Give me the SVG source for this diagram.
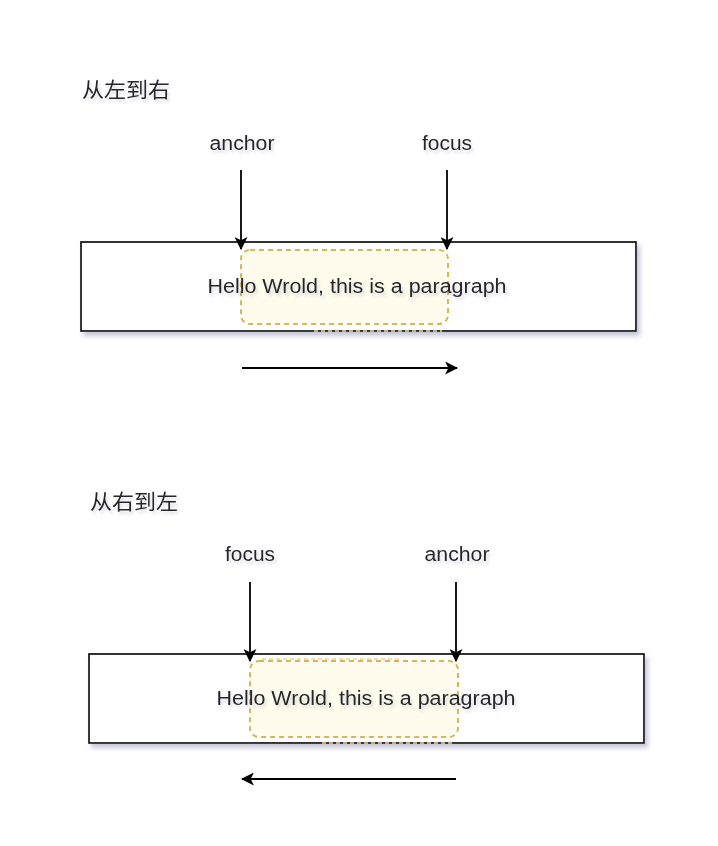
<svg xmlns="http://www.w3.org/2000/svg" width="718" height="846" viewBox="0 0 718 846">
<style>
.t{font-family:"Liberation Sans","Noto Sans CJK SC",Arial,sans-serif;fill:#262626;}
.lbl{font-size:20px;text-anchor:middle;filter:url(#tsh);}
.title{font-size:21px;filter:url(#tsh);}
.box{fill:#fff;stroke:#000;stroke-width:1.6;filter:url(#sh);}
.hl{fill:#fffbea;fill-opacity:0.85;stroke:#d6b656;stroke-width:2;stroke-dasharray:5 4;}
.ln{stroke:#000;stroke-width:1.8;fill:none;}
.faint{stroke:#e6d49a;stroke-width:1.5;stroke-dasharray:4 3;fill:none;}
</style>
<defs>
<filter id="sh" x="-5%" y="-20%" width="115%" height="150%">
<feDropShadow dx="3" dy="4" stdDeviation="2.5" flood-color="#7a7aa0" flood-opacity="0.45"/>
</filter>
<filter id="tsh" x="-10%" y="-30%" width="130%" height="180%">
<feDropShadow dx="2" dy="3" stdDeviation="1.5" flood-color="#8888aa" flood-opacity="0.3"/>
</filter>
<marker id="ah" viewBox="0 0 12 12" refX="11" refY="6" markerWidth="13" markerHeight="13" markerUnits="userSpaceOnUse" orient="auto">
<path d="M0,0 L12,6 L0,12 L3,6 Z" fill="#000"/>
</marker>
</defs>
<rect width="718" height="846" fill="#fff"/>

<g id="title1"><text class="t title" x="82" y="97" textLength="88" lengthAdjust="spacingAndGlyphs">从左到右</text></g>
<g id="box1">
<rect class="box" x="81" y="242" width="555" height="89"/>
<rect class="hl" x="241" y="250" width="207" height="74" rx="9"/>
<line class="faint" x1="314" y1="331" x2="442" y2="331"/>
<text class="t lbl" x="357" y="293" textLength="299" lengthAdjust="spacingAndGlyphs">Hello Wrold, this is a paragraph</text>
</g>
<g id="anchor1"><text class="t lbl" x="242" y="150" textLength="65" lengthAdjust="spacingAndGlyphs">anchor</text></g>
<g id="focus1"><text class="t lbl" x="447" y="150" textLength="50" lengthAdjust="spacingAndGlyphs">focus</text></g>

<g id="title2"><text class="t title" x="90" y="509" textLength="88" lengthAdjust="spacingAndGlyphs">从右到左</text></g>
<g id="box2">
<rect class="box" x="89" y="654" width="555" height="89"/>
<rect class="hl" x="250" y="661" width="208" height="76" rx="9"/>
<line class="faint" x1="262" y1="659" x2="400" y2="659"/>
<line class="faint" x1="322" y1="743" x2="452" y2="743"/>
<text class="t lbl" x="366" y="705" textLength="299" lengthAdjust="spacingAndGlyphs">Hello Wrold, this is a paragraph</text>
</g>
<g id="focus2"><text class="t lbl" x="250" y="561" textLength="50" lengthAdjust="spacingAndGlyphs">focus</text></g>
<g id="anchor2"><text class="t lbl" x="457" y="561" textLength="65" lengthAdjust="spacingAndGlyphs">anchor</text></g>

<g id="connectors">
<line class="ln" x1="241" y1="170" x2="241" y2="249" marker-end="url(#ah)"/>
<line class="ln" x1="447" y1="170" x2="447" y2="249" marker-end="url(#ah)"/>
<line class="ln" x1="242" y1="368" x2="457" y2="368" marker-end="url(#ah)"/>
<line class="ln" x1="250" y1="582" x2="250" y2="661" marker-end="url(#ah)"/>
<line class="ln" x1="456" y1="582" x2="456" y2="661" marker-end="url(#ah)"/>
<line class="ln" x1="456" y1="779" x2="242" y2="779" marker-end="url(#ah)"/>
</g>
</svg>
